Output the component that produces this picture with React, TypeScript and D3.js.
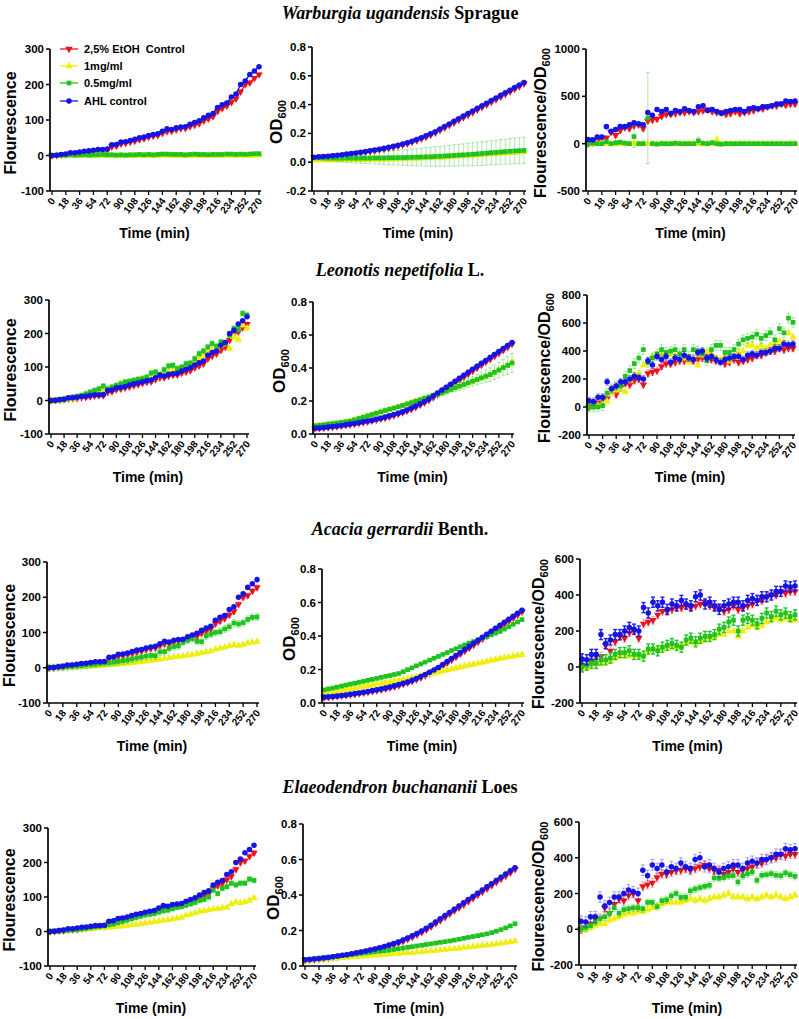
import React from "react";
import * as d3 from "d3";

// ---------------- DATA ----------------
const TIMES = [0,6,12,18,24,30,36,42,48,54,60,66,72,78,84,90,96,102,108,114,120,126,132,138,144,150,156,162,168,174,180,186,192,198,204,210,216,222,228,234,240,246,252,258,264,270];
const X_TICKS = [0,18,36,54,72,90,108,126,144,162,180,198,216,234,252,270];

const SERIES_LABELS = ["2,5% EtOH  Control", "1mg/ml", "0.5mg/ml", "AHL control"];
const ROW_TITLES = [
  ["Warburgia ugandensis", " Sprague"],
  ["Leonotis nepetifolia", " L."],
  ["Acacia gerrardii", " Benth."],
  ["Elaeodendron buchananii", " Loes"],
];

// y ticks
const TICKS_FL = [-100, 0, 100, 200, 300];
const TICKS_OD_NEG = [-0.2, 0, 0.2, 0.4, 0.6, 0.8];
const TICKS_OD = [0, 0.2, 0.4, 0.6, 0.8];
const TICKS_FOD_W = [-500, 0, 500, 1000];
const TICKS_FOD_L = [-200, 0, 200, 400, 600, 800];
const TICKS_FOD = [-200, 0, 200, 400, 600];

// shared controls
const CTRL_FL_ETOH = [0,1,2,3,5,6,7,9,10,12,14,15,15,25,27,33,35,38,41,45,48,52,55,57,63,68,69,73,76,77,82,86,90,98,104,110,125,133,140,150,160,180,200,205,218,228];
const CTRL_FL_AHL = [0,1,3,4,8,8,10,12,13,15,17,17,18,30,31,38,39,42,46,50,52,56,59,61,68,75,73,78,80,81,88,93,98,106,113,118,135,143,148,165,173,200,210,228,238,250];
const CTRL_OD_ETOH = [.033,.035,.037,.040,.043,.046,.049,.053,.057,.061,.066,.070,.075,.080,.086,.092,.098,.105,.113,.121,.130,.140,.151,.163,.176,.190,.205,.222,.240,.257,.275,.293,.311,.328,.346,.364,.382,.400,.418,.436,.454,.472,.490,.508,.526,.545];
const CTRL_OD_AHL = [.035,.037,.039,.042,.045,.048,.052,.056,.060,.064,.069,.074,.079,.084,.090,.096,.103,.110,.118,.126,.135,.146,.158,.170,.183,.197,.212,.230,.248,.266,.284,.302,.320,.338,.356,.374,.392,.410,.428,.446,.464,.482,.500,.518,.536,.554];
const CTRL_FOD_ETOH = [0,10,30,60,60,120,90,140,170,160,190,200,160,240,250,260,290,310,310,320,330,330,340,330,340,350,360,340,330,330,310,320,340,320,330,340,350,370,370,390,400,400,420,410,420,420];
const CTRL_FOD_AHL = [45,40,70,70,180,130,150,180,180,200,220,210,200,330,300,360,340,360,320,350,340,370,350,340,390,400,350,360,340,320,340,350,360,360,340,370,380,370,390,390,400,420,420,450,445,450];

// Warburgia ugandensis
const W_FL_1MG = [0,0,-1,0,0,-1,-1,0,0,-1,0,0,-1,0,0,-1,0,0,-1,0,0,0,-1,0,1,0,0,0,0,-1,0,0,0,0,1,0,0,0,1,0,0,0,1,0,0,1];
const W_FL_05MG = [0,1,1,1,2,1,2,2,1,2,2,3,2,2,1,2,1,2,2,3,2,3,2,3,4,4,3,3,3,2,3,4,3,3,2,3,3,3,4,4,3,4,3,4,5,5];
const W_OD_1MG = [.014,.014,.014,.015,.015,.015,.016,.016,.016,.017,.017,.018,.018,.019,.020,.020,.021,.022,.023,.024,.025,.026,.027,.028,.030,.031,.033,.034,.036,.038,.040,.042,.044,.046,.048,.050,.052,.054,.056,.058,.061,.063,.065,.067,.069,.072];
const W_OD_05MG = [.030,.030,.029,.029,.029,.028,.028,.028,.028,.028,.029,.029,.029,.030,.030,.030,.031,.031,.032,.032,.033,.034,.035,.036,.037,.038,.040,.041,.043,.045,.047,.049,.051,.053,.055,.058,.060,.063,.066,.068,.071,.073,.076,.078,.080,.082];
const W_OD_05MG_ERR = [.005,.010,.014,.018,.021,.024,.027,.030,.032,.034,.036,.038,.040,.042,.044,.046,.048,.050,.052,.054,.056,.058,.060,.062,.064,.066,.068,.069,.070,.072,.074,.075,.076,.078,.080,.081,.082,.083,.084,.085,.086,.087,.088,.089,.090,.092];
const W_FOD_1MG = [0,-5,0,0,0,0,-5,0,0,0,0,-5,0,0,0,-5,0,0,-5,0,0,-5,0,0,0,-5,0,0,40,-5,0,0,-5,0,0,0,-5,0,0,-5,0,0,0,-5,0,0];
const W_FOD_1MG_ERR = [5,5,5,5,5,5,5,5,5,5,5,5,5,5,5,5,5,5,5,5,5,5,5,5,5,5,5,5,70,5,5,5,5,5,5,5,5,5,5,5,5,5,5,5,5,5];
const W_FOD_05MG = [0,5,0,0,20,0,10,15,5,0,75,0,0,270,0,-5,0,0,0,5,0,0,0,0,30,5,0,10,0,-5,0,0,0,0,0,0,0,0,0,0,0,0,0,0,0,0];
const W_FOD_05MG_ERR = [10,10,10,10,15,10,10,10,10,10,115,10,10,480,10,10,10,10,10,10,10,10,10,10,40,10,10,10,10,10,10,10,10,10,10,10,10,10,10,10,10,10,10,10,10,10];

// Leonotis nepetifolia
const L_FL_1MG = [0,0,1,2,4,6,9,12,15,18,20,24,28,32,38,42,48,52,55,58,62,66,62,65,70,75,80,85,90,95,92,100,105,112,125,135,145,150,155,165,170,155,190,182,225,215];
const L_FL_05MG = [0,0,2,4,7,10,12,15,20,25,30,35,43,35,40,45,50,55,57,60,63,65,70,82,85,78,92,103,105,95,100,110,112,125,140,148,160,170,162,175,172,195,215,212,260,255];
const L_OD_1MG = [.048,.051,.054,.058,.061,.064,.068,.072,.076,.084,.092,.100,.108,.116,.124,.132,.140,.148,.156,.164,.172,.181,.189,.198,.206,.215,.223,.232,.240,.249,.259,.269,.279,.289,.299,.309,.319,.329,.339,.349,.359,.373,.387,.401,.417,.435];
const L_OD_05MG = [.050,.053,.056,.060,.063,.066,.070,.074,.078,.086,.094,.102,.110,.118,.126,.134,.142,.150,.157,.165,.173,.182,.190,.199,.207,.216,.224,.233,.241,.250,.260,.270,.280,.290,.300,.310,.320,.330,.340,.350,.360,.374,.388,.402,.416,.430];
const L_OD_05MG_ERR = [.004,.004,.004,.004,.004,.004,.004,.004,.004,.004,.005,.005,.005,.005,.005,.005,.006,.006,.006,.006,.007,.007,.008,.008,.009,.010,.011,.012,.014,.016,.018,.020,.022,.024,.026,.028,.030,.032,.035,.038,.041,.044,.047,.050,.054,.058];
const L_FOD_1MG = [0,0,10,20,40,100,120,130,110,190,230,240,300,330,360,370,380,370,380,360,340,350,320,350,300,370,400,380,350,340,360,330,360,390,400,440,440,420,440,420,440,450,470,460,530,500];
const L_FOD_05MG = [0,0,0,10,100,130,150,150,220,260,310,350,410,320,350,380,410,390,400,410,380,410,360,410,400,380,330,410,440,440,390,390,410,450,480,490,500,520,490,510,530,480,560,530,635,605];

// Acacia gerrardii
const A_FL_1MG = [0,0,1,1,2,2,3,3,4,5,5,6,7,8,9,10,11,12,14,15,17,18,20,22,24,26,28,30,32,33,35,37,40,42,45,47,52,55,58,62,65,63,66,70,72,74];
const A_FL_05MG = [0,0,1,2,3,4,5,6,8,9,10,12,13,14,16,18,20,22,25,28,30,33,35,34,45,46,55,60,62,72,78,83,75,74,90,95,100,102,110,116,127,124,128,137,143,144];
const A_OD_1MG = [.055,.060,.065,.069,.074,.079,.084,.088,.093,.098,.103,.107,.112,.117,.122,.126,.131,.136,.141,.145,.150,.155,.160,.166,.172,.178,.184,.190,.196,.202,.208,.214,.220,.226,.231,.237,.242,.248,.254,.259,.265,.270,.275,.279,.284,.288];
const A_OD_05MG = [.078,.084,.089,.095,.101,.107,.113,.118,.124,.130,.136,.141,.147,.153,.159,.164,.170,.176,.187,.199,.210,.222,.233,.244,.256,.267,.278,.290,.301,.313,.324,.336,.347,.357,.367,.377,.387,.397,.407,.417,.427,.441,.455,.470,.484,.498];
const A_FOD_1MG = [0,0,10,20,20,30,30,50,60,70,60,70,60,70,90,100,100,100,110,110,110,120,130,140,130,140,150,160,170,180,180,200,200,170,200,220,230,220,230,250,260,270,260,270,260,260];
const A_FOD_05MG = [0,10,20,20,40,40,50,70,80,80,90,70,70,60,100,100,90,110,120,130,120,110,150,160,140,160,170,170,180,210,220,250,260,200,260,270,260,240,270,300,280,310,290,300,280,290];

// Elaeodendron buchananii
const E_FL_1MG = [0,0,1,2,3,4,5,6,7,8,9,10,11,12,13,14,16,17,19,20,22,24,26,28,30,32,34,36,38,40,47,50,53,58,60,62,65,66,68,70,80,85,83,86,90,97];
const E_FL_05MG = [0,1,2,3,4,5,6,8,10,12,14,16,17,20,22,26,29,33,37,41,45,48,50,52,56,60,62,66,70,72,76,80,84,90,93,100,120,110,125,130,140,135,140,140,152,148];
const E_OD_1MG = [.030,.032,.034,.036,.038,.040,.042,.044,.046,.048,.050,.052,.054,.056,.058,.060,.062,.064,.066,.068,.070,.072,.074,.076,.078,.080,.082,.085,.087,.090,.092,.095,.097,.100,.103,.106,.109,.112,.115,.118,.121,.124,.128,.132,.136,.140];
const E_OD_05MG = [.035,.038,.041,.044,.047,.050,.053,.056,.059,.062,.065,.068,.071,.074,.077,.080,.083,.086,.089,.093,.097,.101,.105,.109,.113,.117,.121,.125,.129,.133,.137,.141,.146,.151,.156,.161,.166,.171,.176,.181,.188,.196,.205,.215,.226,.238];
const E_FOD_1MG = [0,0,10,20,30,30,50,60,70,80,90,90,100,100,110,120,130,140,150,150,150,150,160,170,160,170,160,170,180,180,190,200,180,180,180,170,180,170,180,190,180,190,180,170,180,190];
const E_FOD_05MG = [0,10,20,40,60,70,90,120,90,110,115,120,120,115,150,150,126,160,165,187,200,178,180,215,225,233,240,246,287,285,289,298,300,265,298,310,320,274,302,305,311,302,300,315,305,296];

// typical error (SEM) per series [EtOH, 1mg/ml, 0.5mg/ml, AHL]
const W_ERR_FL = [5, 1, 1.5, 3];
const W_ERR_OD = [0.008, 0.012, W_OD_05MG_ERR, 0.006];
const W_ERR_FOD = [25, W_FOD_1MG_ERR, W_FOD_05MG_ERR, 20];
const L_ERR_FL = [6, 8, 8, 4];
const L_ERR_OD = [0.01, 0.01, L_OD_05MG_ERR, 0.012];
const L_ERR_FOD = [25, 20, 35, 25];
const A_ERR_FL = [7, 3, 10, 4];
const A_ERR_OD = [0.01, 0.012, 0.006, 0.012];
const A_ERR_FOD = [22, 12, 28, 28];
const E_ERR_FL = [7, 3, 7, 4];
const E_ERR_OD = [0.01, 0.004, 0.006, 0.012];
const E_ERR_FOD = [25, 18, 20, 30];

// ---------------- STYLE / LAYOUT ----------------
const COLORS = ["#e8141c", "#eeee10", "#1fc21f", "#1414e6"];
const SHAPES = ["triDown", "triUp", "square", "circle"];
const TITLE_Y = [19, 276, 535, 793];
const TIME_Y = [238, 482, 751, 1013];
const LAYOUT = [
  [
    { ax: 50, x1: 259, top: 49, bot: 191, lx: 16 },
    { ax: 312, x1: 524, top: 47, bot: 191, lx: 282 },
    { ax: 586, x1: 795, top: 49, bot: 191, lx: 546 },
  ],
  [
    { ax: 49, x1: 247, top: 300, bot: 434, lx: 16 },
    { ax: 313, x1: 512, top: 302, bot: 434, lx: 285 },
    { ax: 587, x1: 793, top: 295, bot: 435, lx: 550 },
  ],
  [
    { ax: 47, x1: 257, top: 562, bot: 703, lx: 15 },
    { ax: 322, x1: 522, top: 569, bot: 703, lx: 295 },
    { ax: 580, x1: 795, top: 559, bot: 703, lx: 544 },
  ],
  [
    { ax: 48, x1: 254, top: 828, bot: 966, lx: 15 },
    { ax: 303, x1: 515, top: 824, bot: 966, lx: 279 },
    { ax: 579, x1: 795, top: 822, bot: 965, lx: 544 },
  ],
];

type PanelSpec = {
  kind: "fl" | "od" | "fod";
  domain: [number, number];
  ticks: number[];
  series: number[][];
  err: (number | number[])[];
  line?: boolean;
  legend?: boolean;
  strongErr?: boolean;
};

const ROWS: PanelSpec[][] = [
  [
    { kind: "fl", domain: [-100, 300], ticks: TICKS_FL, series: [CTRL_FL_ETOH, W_FL_1MG, W_FL_05MG, CTRL_FL_AHL], err: W_ERR_FL, line: true, legend: true },
    { kind: "od", domain: [-0.2, 0.8], ticks: TICKS_OD_NEG, series: [CTRL_OD_ETOH, W_OD_1MG, W_OD_05MG, CTRL_OD_AHL], err: W_ERR_OD },
    { kind: "fod", domain: [-500, 1000], ticks: TICKS_FOD_W, series: [CTRL_FOD_ETOH, W_FOD_1MG, W_FOD_05MG, CTRL_FOD_AHL], err: W_ERR_FOD },
  ],
  [
    { kind: "fl", domain: [-100, 300], ticks: TICKS_FL, series: [CTRL_FL_ETOH, L_FL_1MG, L_FL_05MG, CTRL_FL_AHL], err: L_ERR_FL },
    { kind: "od", domain: [0, 0.8], ticks: TICKS_OD, series: [CTRL_OD_ETOH, L_OD_1MG, L_OD_05MG, CTRL_OD_AHL], err: L_ERR_OD },
    { kind: "fod", domain: [-200, 800], ticks: TICKS_FOD_L, series: [CTRL_FOD_ETOH, L_FOD_1MG, L_FOD_05MG, CTRL_FOD_AHL], err: L_ERR_FOD },
  ],
  [
    { kind: "fl", domain: [-100, 300], ticks: TICKS_FL, series: [CTRL_FL_ETOH, A_FL_1MG, A_FL_05MG, CTRL_FL_AHL], err: A_ERR_FL },
    { kind: "od", domain: [0, 0.8], ticks: TICKS_OD, series: [CTRL_OD_ETOH, A_OD_1MG, A_OD_05MG, CTRL_OD_AHL], err: A_ERR_OD },
    { kind: "fod", domain: [-200, 600], ticks: TICKS_FOD, series: [CTRL_FOD_ETOH, A_FOD_1MG, A_FOD_05MG, CTRL_FOD_AHL], err: A_ERR_FOD, strongErr: true },
  ],
  [
    { kind: "fl", domain: [-100, 300], ticks: TICKS_FL, series: [CTRL_FL_ETOH, E_FL_1MG, E_FL_05MG, CTRL_FL_AHL], err: E_ERR_FL },
    { kind: "od", domain: [0, 0.8], ticks: TICKS_OD, series: [CTRL_OD_ETOH, E_OD_1MG, E_OD_05MG, CTRL_OD_AHL], err: E_ERR_OD },
    { kind: "fod", domain: [-200, 600], ticks: TICKS_FOD, series: [CTRL_FOD_ETOH, E_FOD_1MG, E_FOD_05MG, CTRL_FOD_AHL], err: E_ERR_FOD },
  ],
];

const SANS = "'Liberation Sans', Arial, Helvetica, sans-serif";
const SERIF = "'Liberation Serif', 'Times New Roman', serif";

function symbolPath(shape: string): string {
  if (shape === "circle") return d3.symbol().type(d3.symbolCircle).size(24)() as string;
  if (shape === "square") return d3.symbol().type(d3.symbolSquare).size(22)() as string;
  return d3.symbol().type(d3.symbolTriangle).size(24)() as string;
}

function Marker({ shape, x, y, color }: { shape: string; x: number; y: number; color: string }) {
  const rot = shape === "triDown" ? " rotate(180)" : "";
  return <path d={symbolPath(shape)} transform={`translate(${x},${y})${rot}`} fill={color} />;
}

function fmt(v: number, kind: string) {
  return kind === "od" ? v.toFixed(1) : String(v);
}

function Panel({ p, L, timeY }: { p: PanelSpec; L: any; timeY: number }) {
  const x = d3.scaleLinear().domain([0, 270]).range([L.ax + 2, L.x1]);
  const y = d3.scaleLinear().domain(p.domain).range([L.bot, L.top]);
  const cy = (L.top + L.bot) / 2;
  const line = d3.line<number>().x((_, i) => x(TIMES[i])).y((v) => y(v));
  return (
    <g>
      {p.series.map((s, si) => {
        const color = COLORS[si];
        const e = p.err[si];
        const strong = p.strongErr && (si === 3 || si === 2);
        return (
          <g key={si}>
            {s.map((v, i) => {
              const ev = Array.isArray(e) ? e[i] : e;
              const px = x(TIMES[i]);
              const y1 = y(v + ev), y2 = y(v - ev);
              return (
                <g key={i} stroke={color} strokeOpacity={strong ? 0.95 : 0.45} strokeWidth={strong ? 1.4 : 0.8}>
                  <line x1={px} x2={px} y1={y1} y2={y2} />
                  <line x1={px - 2} x2={px + 2} y1={y1} y2={y1} />
                  <line x1={px - 2} x2={px + 2} y1={y2} y2={y2} />
                </g>
              );
            })}
            {p.line && <path d={line(s) as string} fill="none" stroke={color} strokeWidth={1.3} />}
            {s.map((v, i) => (
              <Marker key={i} shape={SHAPES[si]} x={x(TIMES[i])} y={y(v)} color={color} />
            ))}
          </g>
        );
      })}
      <line x1={L.ax} x2={L.ax} y1={L.top} y2={L.bot} stroke="#000" strokeWidth={1.7} />
      <line x1={L.ax} x2={L.x1 + 2} y1={L.bot} y2={L.bot} stroke="#000" strokeWidth={1.7} />
      {p.ticks.map((t) => (
        <g key={t}>
          <line x1={L.ax - 4} x2={L.ax} y1={y(t)} y2={y(t)} stroke="#000" strokeWidth={1.5} />
          <text x={L.ax - 6} y={y(t)} dy="0.35em" textAnchor="end" fontSize={11.5} fontWeight="bold" fontFamily={SANS}>
            {fmt(t, p.kind)}
          </text>
        </g>
      ))}
      {X_TICKS.map((t) => (
        <g key={t}>
          <line x1={x(t)} x2={x(t)} y1={L.bot} y2={L.bot + 4} stroke="#000" strokeWidth={1.3} />
          <text
            transform={`translate(${x(t) + 1},${L.bot + 8}) rotate(-52)`}
            textAnchor="end"
            dy="0.35em"
            fontSize={10}
            fontWeight="bold"
            fontFamily={SANS}
          >
            {t}
          </text>
        </g>
      ))}
      <text
        transform={`translate(${L.lx},${cy + 3}) rotate(-90)`}
        textAnchor="middle"
        fontSize={p.kind === "od" ? 17 : 16}
        fontWeight="bold"
        fontFamily={SANS}
      >
        {p.kind === "fl" && "Flourescence"}
        {p.kind === "od" && (
          <>
            OD<tspan fontSize={11} dy={4}>600</tspan>
          </>
        )}
        {p.kind === "fod" && (
          <>
            Flourescence/OD<tspan fontSize={11} dy={4}>600</tspan>
          </>
        )}
      </text>
      <text x={(L.ax + L.x1) / 2} y={timeY} textAnchor="middle" fontSize={14} fontWeight="bold" fontFamily={SANS}>
        Time (min)
      </text>
      {p.legend &&
        SERIES_LABELS.map((lab, i) => {
          const ly = [49, 66, 83, 101][i];
          return (
            <g key={lab}>
              <line x1={60} x2={78} y1={ly} y2={ly} stroke={COLORS[i]} strokeWidth={1.3} />
              <Marker shape={SHAPES[i]} x={69} y={ly} color={COLORS[i]} />
              <text x={84} y={ly} dy="0.35em" fontSize={11} fontWeight="bold" fontFamily={SANS} style={{ whiteSpace: "pre" }}>
                {lab}
              </text>
            </g>
          );
        })}
    </g>
  );
}

export default function App() {
  return (
    <div style={{ position: "absolute", left: 0, top: 0 }}>
      <svg width={799} height={1019} style={{ display: "block", background: "#fff" }}>
        {ROW_TITLES.map((t, r) => (
          <text key={r} x={400} y={TITLE_Y[r]} textAnchor="middle" fontSize={18} fontWeight="bold" fontFamily={SERIF}>
            <tspan fontStyle="italic">{t[0]}</tspan>
            <tspan style={{ whiteSpace: "pre" }}>{t[1]}</tspan>
          </text>
        ))}
        {ROWS.map((row, r) =>
          row.map((p, c) => <Panel key={`${r}-${c}`} p={p} L={LAYOUT[r][c]} timeY={TIME_Y[r]} />)
        )}
      </svg>
    </div>
  );
}
